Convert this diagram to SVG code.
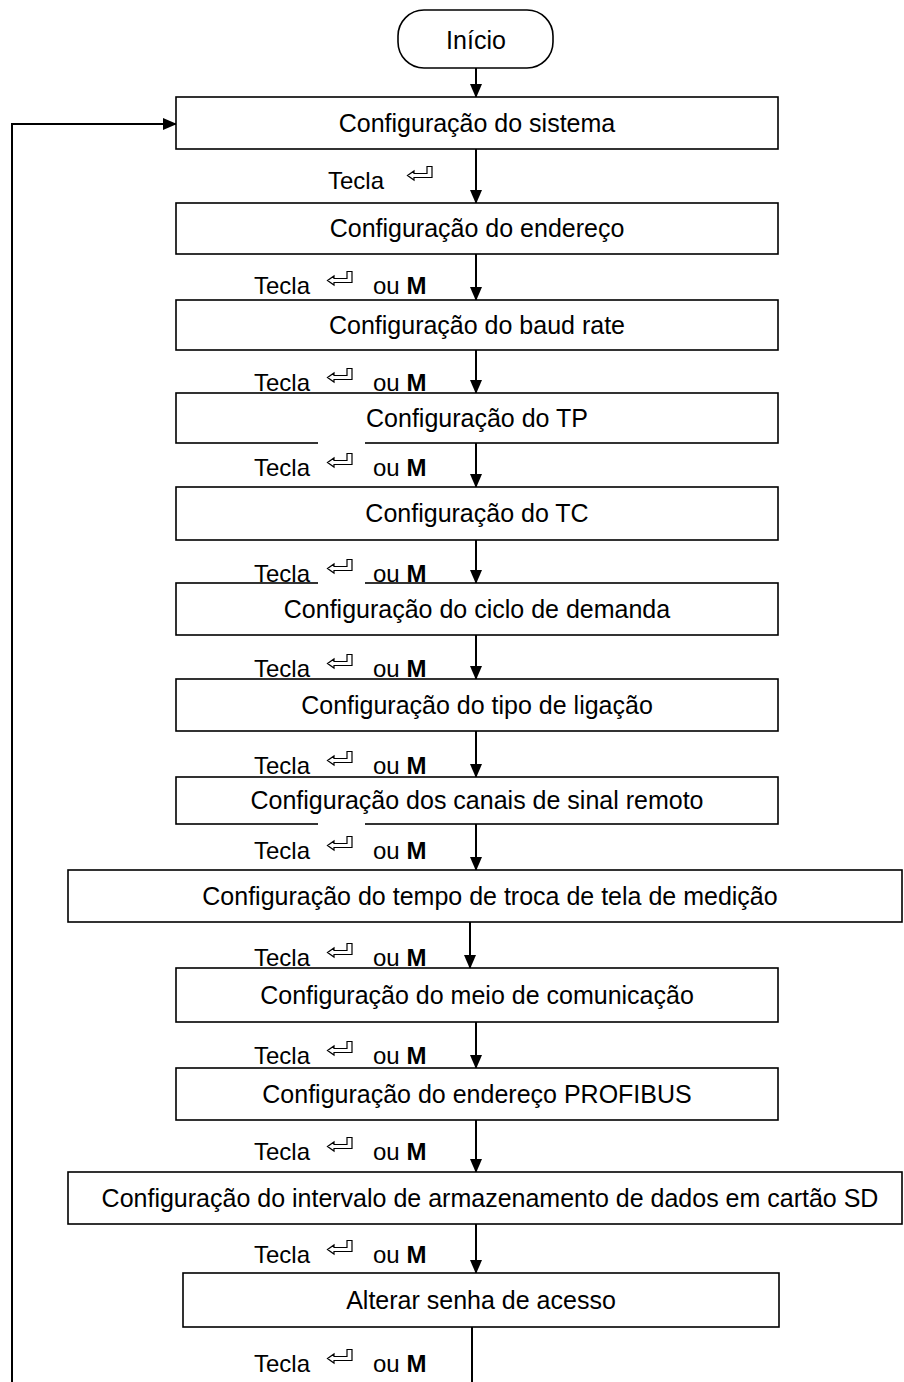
<svg xmlns="http://www.w3.org/2000/svg" width="904" height="1382" viewBox="0 0 904 1382">
<style>
.box{fill:#fff;stroke:#000;stroke-width:1.6}
.t{font-family:"Liberation Sans",Arial,sans-serif;font-size:25px;fill:#000;text-anchor:middle}
.l{font-family:"Liberation Sans",Arial,sans-serif;font-size:24px;fill:#000}
.b{font-weight:bold}
.c{fill:none;stroke:#000;stroke-width:2}
.key{fill:#fff;stroke:#000;stroke-width:1.2;stroke-linejoin:miter}
.bg{fill:#fff;stroke:none}
</style>
<defs>
<marker id="ah" markerUnits="userSpaceOnUse" markerWidth="14" markerHeight="12" refX="13" refY="6" orient="auto">
<path d="M0,0 L14,6 L0,12 Z" fill="#000"/>
</marker>
<path id="enter" class="key" d="M0.5,9.5 L7,5 L7,7.5 L20,7.5 L20,0.5 L25,0.5 L25,11.5 L7,11.5 L7,14 Z"/>
</defs>

<g id="connectors">
<line class="c" x1="476" y1="68" x2="476" y2="97" marker-end="url(#ah)"/>
<line class="c" x1="476" y1="149" x2="476" y2="203" marker-end="url(#ah)"/>
<line class="c" x1="476" y1="254" x2="476" y2="300" marker-end="url(#ah)"/>
<line class="c" x1="476" y1="350" x2="476" y2="393" marker-end="url(#ah)"/>
<line class="c" x1="476" y1="443" x2="476" y2="487" marker-end="url(#ah)"/>
<line class="c" x1="476" y1="540" x2="476" y2="583" marker-end="url(#ah)"/>
<line class="c" x1="476" y1="635" x2="476" y2="679" marker-end="url(#ah)"/>
<line class="c" x1="476" y1="731" x2="476" y2="777" marker-end="url(#ah)"/>
<line class="c" x1="476" y1="824" x2="476" y2="870" marker-end="url(#ah)"/>
<line class="c" x1="470" y1="922" x2="470" y2="968" marker-end="url(#ah)"/>
<line class="c" x1="476" y1="1022" x2="476" y2="1068" marker-end="url(#ah)"/>
<line class="c" x1="476" y1="1120" x2="476" y2="1172" marker-end="url(#ah)"/>
<line class="c" x1="476" y1="1224" x2="476" y2="1273" marker-end="url(#ah)"/>
<line class="c" x1="472" y1="1327" x2="472" y2="1382"/>
<polyline class="c" points="12,1382 12,124 176,124" marker-end="url(#ah)"/>
</g>

<g id="n-inicio"><rect class="box" x="398" y="10" width="155" height="58" rx="26" ry="26"/><text class="t" x="476" y="49">Início</text></g>
<g id="n-sistema"><rect class="box" x="176" y="97" width="602" height="52"/><text class="t" x="477" y="132">Configuração do sistema</text></g>
<g id="n-endereco"><rect class="box" x="176" y="203" width="602" height="51"/><text class="t" x="477" y="237">Configuração do endereço</text></g>
<g id="n-baud"><rect class="box" x="176" y="300" width="602" height="50"/><text class="t" x="477" y="334">Configuração do baud rate</text></g>
<g id="n-tp"><rect class="box" x="176" y="393" width="602" height="50"/><text class="t" x="477" y="427">Configuração do TP</text></g>
<g id="n-tc"><rect class="box" x="176" y="487" width="602" height="53"/><text class="t" x="477" y="522">Configuração do TC</text></g>
<g id="n-ciclo"><rect class="box" x="176" y="583" width="602" height="52"/><text class="t" x="477" y="618">Configuração do ciclo de demanda</text></g>
<g id="n-ligacao"><rect class="box" x="176" y="679" width="602" height="52"/><text class="t" x="477" y="714">Configuração do tipo de ligação</text></g>
<g id="n-canais"><rect class="box" x="176" y="777" width="602" height="47"/><text class="t" x="477" y="809">Configuração dos canais de sinal remoto</text></g>
<g id="n-tempo"><rect class="box" x="68" y="870" width="834" height="52"/><text class="t" x="490" y="905">Configuração do tempo de troca de tela de medição</text></g>
<g id="n-meio"><rect class="box" x="176" y="968" width="602" height="54"/><text class="t" x="477" y="1004">Configuração do meio de comunicação</text></g>
<g id="n-profibus"><rect class="box" x="176" y="1068" width="602" height="52"/><text class="t" x="477" y="1103">Configuração do endereço PROFIBUS</text></g>
<g id="n-intervalo"><rect class="box" x="68" y="1172" width="834" height="52"/><text class="t" x="490" y="1207">Configuração do intervalo de armazenamento de dados em cartão SD</text></g>
<g id="n-senha"><rect class="box" x="183" y="1273" width="596" height="54"/><text class="t" x="481" y="1309">Alterar senha de acesso</text></g>

<g id="labels">
<g><text class="l" x="328" y="189">Tecla</text><use href="#enter" x="407" y="166"/></g>
<g><text class="l" x="254" y="294">Tecla</text><use href="#enter" x="327" y="271"/><text class="l" x="373" y="294">ou <tspan class="b">M</tspan></text></g>
<g><text class="l" x="254" y="391">Tecla</text><use href="#enter" x="327" y="368"/><text class="l" x="373" y="391">ou <tspan class="b">M</tspan></text></g>
<g><rect class="bg" x="318" y="441" width="47" height="28"/><text class="l" x="254" y="476">Tecla</text><use href="#enter" x="327" y="453"/><text class="l" x="373" y="476">ou <tspan class="b">M</tspan></text></g>
<g><rect class="bg" x="318" y="560" width="47" height="26"/><text class="l" x="254" y="582">Tecla</text><use href="#enter" x="327" y="559"/><text class="l" x="373" y="582">ou <tspan class="b">M</tspan></text></g>
<g><text class="l" x="254" y="677">Tecla</text><use href="#enter" x="327" y="654"/><text class="l" x="373" y="677">ou <tspan class="b">M</tspan></text></g>
<g><text class="l" x="254" y="774">Tecla</text><use href="#enter" x="327" y="751"/><text class="l" x="373" y="774">ou <tspan class="b">M</tspan></text></g>
<g><rect class="bg" x="318" y="822" width="47" height="28"/><text class="l" x="254" y="859">Tecla</text><use href="#enter" x="327" y="836"/><text class="l" x="373" y="859">ou <tspan class="b">M</tspan></text></g>
<g><text class="l" x="254" y="966">Tecla</text><use href="#enter" x="327" y="943"/><text class="l" x="373" y="966">ou <tspan class="b">M</tspan></text></g>
<g><text class="l" x="254" y="1064">Tecla</text><use href="#enter" x="327" y="1041"/><text class="l" x="373" y="1064">ou <tspan class="b">M</tspan></text></g>
<g><text class="l" x="254" y="1160">Tecla</text><use href="#enter" x="327" y="1137"/><text class="l" x="373" y="1160">ou <tspan class="b">M</tspan></text></g>
<g><text class="l" x="254" y="1263">Tecla</text><use href="#enter" x="327" y="1240"/><text class="l" x="373" y="1263">ou <tspan class="b">M</tspan></text></g>
<g><text class="l" x="254" y="1372">Tecla</text><use href="#enter" x="327" y="1349"/><text class="l" x="373" y="1372">ou <tspan class="b">M</tspan></text></g>
</g>
</svg>
